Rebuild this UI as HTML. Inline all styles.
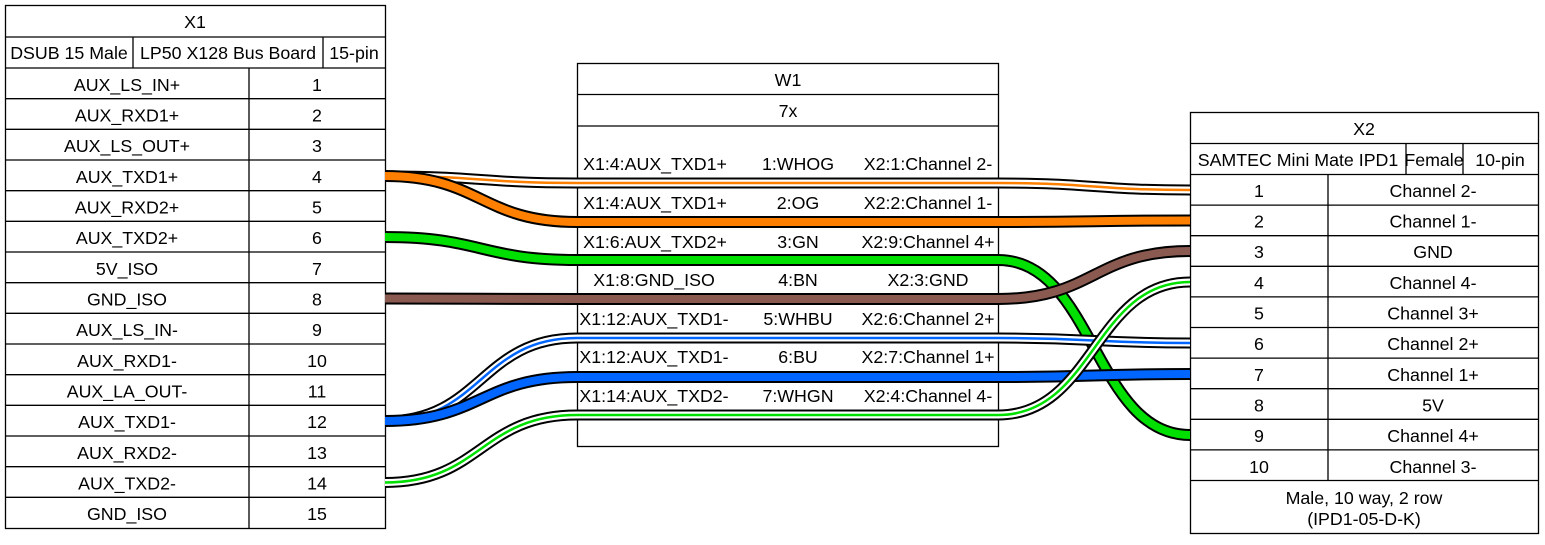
<!DOCTYPE html>
<html><head><meta charset="utf-8"><style>
body{margin:0;background:#fff}
svg text{font-family:"Liberation Sans",Arial,sans-serif;font-size:17.8px;fill:#000}
</style></head><body>
<svg width="1545" height="540" viewBox="0 0 1545 540" xmlns="http://www.w3.org/2000/svg">
<g fill="none" stroke="#000" stroke-width="1.3">
<!-- X1 -->
<rect x="5.5" y="5.5" width="380" height="523"/>
<line x1="5" y1="37" x2="385" y2="37"/>
<line x1="5" y1="68" x2="385" y2="68"/>
<line x1="133" y1="37" x2="133" y2="68"/>
<line x1="323" y1="37" x2="323" y2="68"/>
<line x1="249" y1="68" x2="249" y2="528"/>
<line x1="5" y1="98.7" x2="385" y2="98.7"/><line x1="5" y1="129.3" x2="385" y2="129.3"/>
<line x1="5" y1="160" x2="385" y2="160"/><line x1="5" y1="190.7" x2="385" y2="190.7"/>
<line x1="5" y1="221.3" x2="385" y2="221.3"/><line x1="5" y1="252" x2="385" y2="252"/>
<line x1="5" y1="282.7" x2="385" y2="282.7"/><line x1="5" y1="313.3" x2="385" y2="313.3"/>
<line x1="5" y1="344" x2="385" y2="344"/><line x1="5" y1="374.7" x2="385" y2="374.7"/>
<line x1="5" y1="405.3" x2="385" y2="405.3"/><line x1="5" y1="436" x2="385" y2="436"/>
<line x1="5" y1="466.7" x2="385" y2="466.7"/><line x1="5" y1="497.3" x2="385" y2="497.3"/>
<!-- W1 -->
<rect x="577.5" y="63.5" width="421" height="383"/>
<line x1="577" y1="94.5" x2="998" y2="94.5"/>
<line x1="577" y1="126" x2="998" y2="126"/>
<!-- X2 -->
<rect x="1190.5" y="112.5" width="348" height="421"/>
<line x1="1190" y1="143.5" x2="1538" y2="143.5"/>
<line x1="1190" y1="174.5" x2="1538" y2="174.5"/>
<line x1="1406" y1="143.5" x2="1406" y2="174.5"/>
<line x1="1463" y1="143.5" x2="1463" y2="174.5"/>
<line x1="1328" y1="174.5" x2="1328" y2="480"/>
<line x1="1190" y1="205.1" x2="1538" y2="205.1"/><line x1="1190" y1="235.7" x2="1538" y2="235.7"/>
<line x1="1190" y1="266.3" x2="1538" y2="266.3"/><line x1="1190" y1="296.9" x2="1538" y2="296.9"/>
<line x1="1190" y1="327.5" x2="1538" y2="327.5"/><line x1="1190" y1="358.1" x2="1538" y2="358.1"/>
<line x1="1190" y1="388.7" x2="1538" y2="388.7"/><line x1="1190" y1="419.3" x2="1538" y2="419.3"/>
<line x1="1190" y1="449.9" x2="1538" y2="449.9"/><line x1="1190" y1="480.5" x2="1538" y2="480.5"/>
</g>
<g text-anchor="middle" dominant-baseline="central">
<text x="195" y="22">X1</text>
<text x="69" y="53">DSUB 15 Male</text><text x="228" y="53">LP50 X128 Bus Board</text><text x="354" y="53">15-pin</text>
<text x="127" y="85">AUX_LS_IN+</text><text x="317" y="85">1</text>
<text x="127" y="115.5">AUX_RXD1+</text><text x="317" y="115.5">2</text>
<text x="127" y="146">AUX_LS_OUT+</text><text x="317" y="146">3</text>
<text x="127" y="177">AUX_TXD1+</text><text x="317" y="177">4</text>
<text x="127" y="207.5">AUX_RXD2+</text><text x="317" y="207.5">5</text>
<text x="127" y="238">AUX_TXD2+</text><text x="317" y="238">6</text>
<text x="127" y="269">5V_ISO</text><text x="317" y="269">7</text>
<text x="127" y="299.5">GND_ISO</text><text x="317" y="299.5">8</text>
<text x="127" y="330">AUX_LS_IN-</text><text x="317" y="330">9</text>
<text x="127" y="361">AUX_RXD1-</text><text x="317" y="361">10</text>
<text x="127" y="391.5">AUX_LA_OUT-</text><text x="317" y="391.5">11</text>
<text x="127" y="422">AUX_TXD1-</text><text x="317" y="422">12</text>
<text x="127" y="453">AUX_RXD2-</text><text x="317" y="453">13</text>
<text x="127" y="483.5">AUX_TXD2-</text><text x="317" y="483.5">14</text>
<text x="127" y="514">GND_ISO</text><text x="317" y="514">15</text>

<text x="788" y="80">W1</text>
<text x="788" y="111">7x</text>

<text x="1364" y="129">X2</text>
<text x="1298" y="160">SAMTEC Mini Mate IPD1</text><text x="1434" y="160">Female</text><text x="1500" y="160">10-pin</text>
<text x="1259" y="191">1</text><text x="1433" y="191">Channel 2-</text>
<text x="1259" y="221.5">2</text><text x="1433" y="221.5">Channel 1-</text>
<text x="1259" y="252">3</text><text x="1433" y="252">GND</text>
<text x="1259" y="283">4</text><text x="1433" y="283">Channel 4-</text>
<text x="1259" y="313.5">5</text><text x="1433" y="313.5">Channel 3+</text>
<text x="1259" y="344">6</text><text x="1433" y="344">Channel 2+</text>
<text x="1259" y="375">7</text><text x="1433" y="375">Channel 1+</text>
<text x="1259" y="405.5">8</text><text x="1433" y="405.5">5V</text>
<text x="1259" y="436">9</text><text x="1433" y="436">Channel 4+</text>
<text x="1259" y="467">10</text><text x="1433" y="467">Channel 3-</text>
<text x="1364" y="498">Male, 10 way, 2 row</text>
<text x="1364" y="519">(IPD1-05-D-K)</text>
</g>
<g text-anchor="middle">
<text x="655" y="170">X1:4:AUX_TXD1+</text><text x="798" y="170">1:WHOG</text><text x="928" y="170">X2:1:Channel 2-</text>
<text x="655" y="209">X1:4:AUX_TXD1+</text><text x="798" y="209">2:OG</text><text x="928" y="209">X2:2:Channel 1-</text>
<text x="655" y="248">X1:6:AUX_TXD2+</text><text x="798" y="248">3:GN</text><text x="928" y="248">X2:9:Channel 4+</text>
<text x="654" y="286">X1:8:GND_ISO</text><text x="798" y="286">4:BN</text><text x="928" y="286">X2:3:GND</text>
<text x="654" y="325">X1:12:AUX_TXD1-</text><text x="798" y="325">5:WHBU</text><text x="928" y="325">X2:6:Channel 2+</text>
<text x="654" y="363">X1:12:AUX_TXD1-</text><text x="798" y="363">6:BU</text><text x="928" y="363">X2:7:Channel 1+</text>
<text x="654" y="402">X1:14:AUX_TXD2-</text><text x="798" y="402">7:WHGN</text><text x="928" y="402">X2:4:Channel 4-</text>
</g>
<g fill="none">
<path d="M385,176 C481,176 481,183 577,183 L998,183 C1094,183 1094,190 1190,190" stroke="#000" stroke-width="11"/>
<path d="M385,176 C481,176 481,183 577,183 L998,183 C1094,183 1094,190 1190,190" stroke="#fff" stroke-width="7"/>
<path d="M385,176 C481,176 481,183 577,183 L998,183 C1094,183 1094,190 1190,190" stroke="#ff8000" stroke-width="2.5"/>
<path d="M385,176 C481,176 481,222 577,222 L998,222 C1094,222 1094,220.5 1190,220.5" stroke="#000" stroke-width="12"/>
<path d="M385,176 C481,176 481,222 577,222 L998,222 C1094,222 1094,220.5 1190,220.5" stroke="#ff8000" stroke-width="8"/>
<path d="M385,237 C481,237 481,260 577,260 L998,260 C1094,260 1094,435 1190,435" stroke="#000" stroke-width="12"/>
<path d="M385,237 C481,237 481,260 577,260 L998,260 C1094,260 1094,435 1190,435" stroke="#00e000" stroke-width="8"/>
<path d="M385,298.5 C481,298.5 481,299 577,299 L998,299 C1094,299 1094,251 1190,251" stroke="#000" stroke-width="12"/>
<path d="M385,298.5 C481,298.5 481,299 577,299 L998,299 C1094,299 1094,251 1190,251" stroke="#8a5a50" stroke-width="8"/>
<path d="M385,421 C481,421 481,338 577,338 L998,338 C1094,338 1094,343 1190,343" stroke="#000" stroke-width="11"/>
<path d="M385,421 C481,421 481,338 577,338 L998,338 C1094,338 1094,343 1190,343" stroke="#fff" stroke-width="7"/>
<path d="M385,421 C481,421 481,338 577,338 L998,338 C1094,338 1094,343 1190,343" stroke="#0066ff" stroke-width="2.5"/>
<path d="M385,421 C481,421 481,377 577,377 L998,377 C1094,377 1094,374 1190,374" stroke="#000" stroke-width="12"/>
<path d="M385,421 C481,421 481,377 577,377 L998,377 C1094,377 1094,374 1190,374" stroke="#0066ff" stroke-width="8"/>
<path d="M385,482.5 C481,482.5 481,415 577,415 L998,415 C1094,415 1094,282 1190,282" stroke="#000" stroke-width="11"/>
<path d="M385,482.5 C481,482.5 481,415 577,415 L998,415 C1094,415 1094,282 1190,282" stroke="#fff" stroke-width="7"/>
<path d="M385,482.5 C481,482.5 481,415 577,415 L998,415 C1094,415 1094,282 1190,282" stroke="#00e000" stroke-width="2.5"/>
</g>
</svg>
</body></html>
